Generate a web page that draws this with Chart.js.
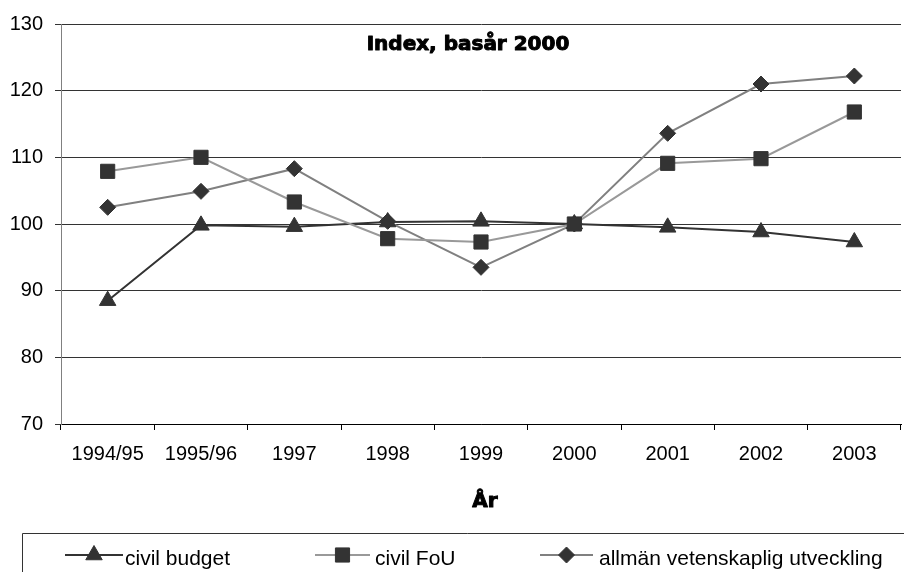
<!DOCTYPE html>
<html>
<head>
<meta charset="utf-8">
<script src="https://cdn.jsdelivr.net/npm/chart.js@4/dist/chart.umd.min.js"></script>
<style>
  html, body { margin: 0; padding: 0; background: #fff; overflow: hidden; }
  #wrap { width: 904px; height: 572px; overflow: hidden; }
</style>
</head>
<body>
<div id="wrap"><canvas id="chart" width="912" height="572"></canvas></div>
<script>
const categories = ["1994/95", "1995/96", "1997", "1998", "1999", "2000", "2001", "2002", "2003"];
const civilBudget = [88.5, 99.8, 99.6, 100.3, 100.4, 100.0, 99.5, 98.8, 97.3];
const civilFoU = [107.9, 110.0, 103.3, 97.8, 97.3, 100.0, 109.1, 109.8, 116.8];
const allmanUtv = [102.5, 104.9, 108.3, 100.4, 93.5, 100.0, 113.6, 121.0, 122.2];
const yMin = 70;
const yMax = 130;
const yStep = 10;

const titleText = "Index, basår 2000";
const xTitleText = "År";

const seriesStyle = [
  { label: "civil budget", line: "#333333", marker: "triangle", radius: 9.5 },
  { label: "civil FoU", line: "#999999", marker: "rect", radius: 10 },
  { label: "allmän vetenskaplig utveckling", line: "#808080", marker: "rectRot", radius: 8 },
];

// legend item positions: line start/end, text start
const legendItems = [
  { x0: 65, x1: 123, tx: 125 },
  { x0: 315, x1: 370, tx: 375 },
  { x0: 540, x1: 593, tx: 599 },
];

const drawPoint = Chart.helpers && Chart.helpers.drawPoint;

const textPlugin = {
  id: "texts",
  afterDraw(chart) {
    const ctx = chart.ctx;
    ctx.save();
    ctx.fillStyle = "#000";
    ctx.strokeStyle = "#000";
    ctx.lineWidth = 1;
    ctx.lineJoin = "round";
    ctx.textAlign = "center";
    ctx.textBaseline = "alphabetic";
    ctx.font = "bold 20px 'DejaVu Sans'";
    // a thin stroke makes the bold face look heavier, like the original
    ctx.fillText(titleText, 468, 50);
    ctx.strokeText(titleText, 468, 50);
    ctx.fillText(xTitleText, 485, 507);
    ctx.strokeText(xTitleText, 485, 507);

    // legend box
    ctx.strokeStyle = "#333";
    ctx.lineWidth = 1;
    ctx.strokeRect(22.5, 533.5, chart.width, 100);

    const lineY = 555;
    seriesStyle.forEach((s, i) => {
      const it = legendItems[i];
      ctx.strokeStyle = s.line;
      ctx.lineWidth = 2;
      ctx.beginPath();
      ctx.moveTo(it.x0, lineY);
      ctx.lineTo(it.x1, lineY);
      ctx.stroke();
      if (drawPoint) {
        ctx.fillStyle = "#333";
        ctx.strokeStyle = "#333";
        ctx.lineWidth = 1;
        drawPoint(ctx, { pointStyle: s.marker, radius: s.radius, rotation: 0, borderWidth: 1 }, (it.x0 + it.x1) / 2, lineY);
      }
      ctx.fillStyle = "#000";
      ctx.textAlign = "left";
      ctx.font = "21px 'Liberation Sans'";
      ctx.fillText(s.label, it.tx, 565);
    });
    ctx.restore();
  },
};

const seriesData = [civilBudget, civilFoU, allmanUtv];
const drawOrder = [1, 0, 2];

new Chart(document.getElementById("chart"), {
  type: "line",
  data: {
    labels: categories,
    datasets: seriesStyle.map((s, i) => ({
      label: s.label,
      data: seriesData[i],
      borderColor: s.line,
      borderWidth: 2,
      pointStyle: s.marker,
      pointRadius: s.radius,
      pointBackgroundColor: "#333",
      pointBorderColor: "#333",
      pointBorderWidth: 1,
      tension: 0,
      order: drawOrder[i],
    })),
  },
  options: {
    responsive: false,
    animation: false,
    devicePixelRatio: 1,
    layout: { padding: { top: 23, right: 3, bottom: 0, left: 0 } },
    plugins: {
      legend: { display: false },
      tooltip: { enabled: false },
      title: { display: false },
    },
    scales: {
      x: {
        offset: true,
        grid: { offset: true, drawOnChartArea: false, tickLength: 6, color: "#000" },
        border: { color: "#000" },
        ticks: {
          color: "#000",
          font: { family: "'Liberation Sans'", size: 20 },
          padding: 12,
          maxRotation: 0,
          autoSkip: false,
        },
        afterFit: (s) => { s.height = 148; },
      },
      y: {
        min: yMin,
        max: yMax,
        grid: { color: "#333", tickLength: 6 },
        border: { color: "#808080" },
        ticks: {
          stepSize: yStep,
          color: "#000",
          font: { family: "'Liberation Sans'", size: 20 },
          padding: 12,
        },
        afterFit: (s) => { s.width = 61; },
      },
    },
  },
  plugins: [textPlugin],
});
</script>
</body>
</html>
